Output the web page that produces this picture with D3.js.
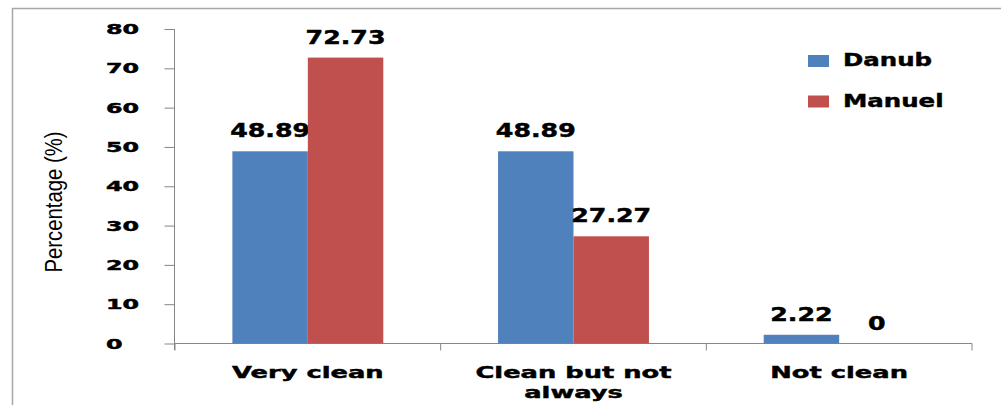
<!DOCTYPE html>
<html><head><meta charset="utf-8">
<script src="https://cdn.jsdelivr.net/npm/d3@7"></script>
<style>
html,body{margin:0;padding:0;background:#fff;}
svg{display:block;}
text{font-family:"DejaVu Sans",Verdana,sans-serif;font-weight:bold;fill:#000;}
text.heavy{stroke:#000;stroke-width:0.45px;}
</style></head>
<body>
<svg id="chart" width="1001" height="405"></svg>
<script>
const categories = [["Very clean"], ["Clean but not", "always"], ["Not clean"]];
const categoryKeys = ["Very clean", "Clean but not always", "Not clean"];
const seriesNames = ["Danub", "Manuel"];
const danub = [48.89, 48.89, 2.22];
const manuel = [72.73, 27.27, 0];
const yTicks = [0, 10, 20, 30, 40, 50, 60, 70, 80];
const colors = ["#4F81BD", "#C0504D"];

const svg = d3.select("#chart");
// outer border
svg.append("rect").attr("x", 12.5).attr("y", 8.5).attr("width", 1000).attr("height", 420)
  .attr("fill", "none").attr("stroke", "#a6a6a6").attr("stroke-width", 1.5);

const y = d3.scaleLinear().domain([0, 80]).range([343.5, 29]);
const x0 = d3.scaleBand().domain(categoryKeys).range([175, 972]).paddingInner(0.432).paddingOuter(0.216);
const x1 = d3.scaleBand().domain(seriesNames).range([0, x0.bandwidth()]);

const axisColor = "#868686";
// y axis
const yAxis = svg.append("g").attr("transform", "translate(174.5,0)")
  .call(d3.axisLeft(y).tickValues(yTicks).tickSize(10).tickFormat(""));
yAxis.select(".domain").attr("stroke", axisColor).attr("d", `M-0,${y(80)}H0V350`);
yAxis.selectAll(".tick line").attr("stroke", axisColor);
// y tick labels (stretched)
svg.append("g").selectAll("g").data(yTicks).join("g")
  .attr("transform", d => `translate(106,${y(d) + 5})scale(1.7,1)`)
  .append("text").attr("class", "heavy").attr("font-size", 14).text(d => d);

// x axis
const xAxis = svg.append("g").attr("transform", "translate(0,343.5)");
xAxis.append("line").attr("x1", 174.5).attr("x2", 972).attr("stroke", axisColor);
const bounds = [175, 175 + x0.step(), 175 + 2 * x0.step(), 972];
xAxis.selectAll(".xt").data(bounds).join("line").attr("class", "xt")
  .attr("x1", d => d).attr("x2", d => d).attr("y1", 0).attr("y2", 7).attr("stroke", axisColor);

// bars
const groups = svg.append("g").selectAll("g").data(categoryKeys).join("g")
  .attr("transform", d => `translate(${x0(d)},0)`);
const seriesVals = [danub, manuel];
groups.each(function(cat, i) {
  const g = d3.select(this);
  seriesNames.forEach((s, j) => {
    const v = seriesVals[j][i];
    g.append("rect").attr("x", x1(s)).attr("y", y(v)).attr("width", x1.bandwidth())
      .attr("height", y(0) - y(v)).attr("fill", colors[j]);
    g.append("g").attr("transform", `translate(${x1(s) + x1.bandwidth() / 2},${y(v) - 14})scale(1.33,1)`)
      .append("text").attr("class", "heavy").attr("text-anchor", "middle").attr("font-size", 19).text(v);
  });
});

// category labels
categories.forEach((lines, i) => {
  const cx = x0(categoryKeys[i]) + x0.bandwidth() / 2;
  lines.forEach((ln, k) => {
    svg.append("g").attr("transform", `translate(${cx},${378 + k * 20})scale(1.56,1)`)
      .append("text").attr("class", "heavy").attr("text-anchor", "middle").attr("font-size", 16.5).text(ln);
  });
});

// y axis title
svg.append("text").attr("transform", "translate(62,202)rotate(-90)")
  .attr("text-anchor", "middle")
  .style("font-family", "'Liberation Sans Narrow','Liberation Sans',Arial,sans-serif")
  .style("font-weight", "normal")
  .attr("font-size", 23).attr("textLength", 141).attr("lengthAdjust", "spacingAndGlyphs")
  .text("Percentage (%)");

// legend
const legend = svg.append("g").selectAll("g").data(seriesNames).join("g")
  .attr("transform", (d, i) => `translate(808,${55 + i * 40.5})`);
legend.append("rect").attr("width", 21).attr("height", 12).attr("fill", (d, i) => colors[i]);
legend.append("g").attr("transform", "translate(35,11)scale(1.33,1)")
  .append("text").attr("class", "heavy").attr("font-size", 18.4).text(d => d);
</script>
</body></html>
